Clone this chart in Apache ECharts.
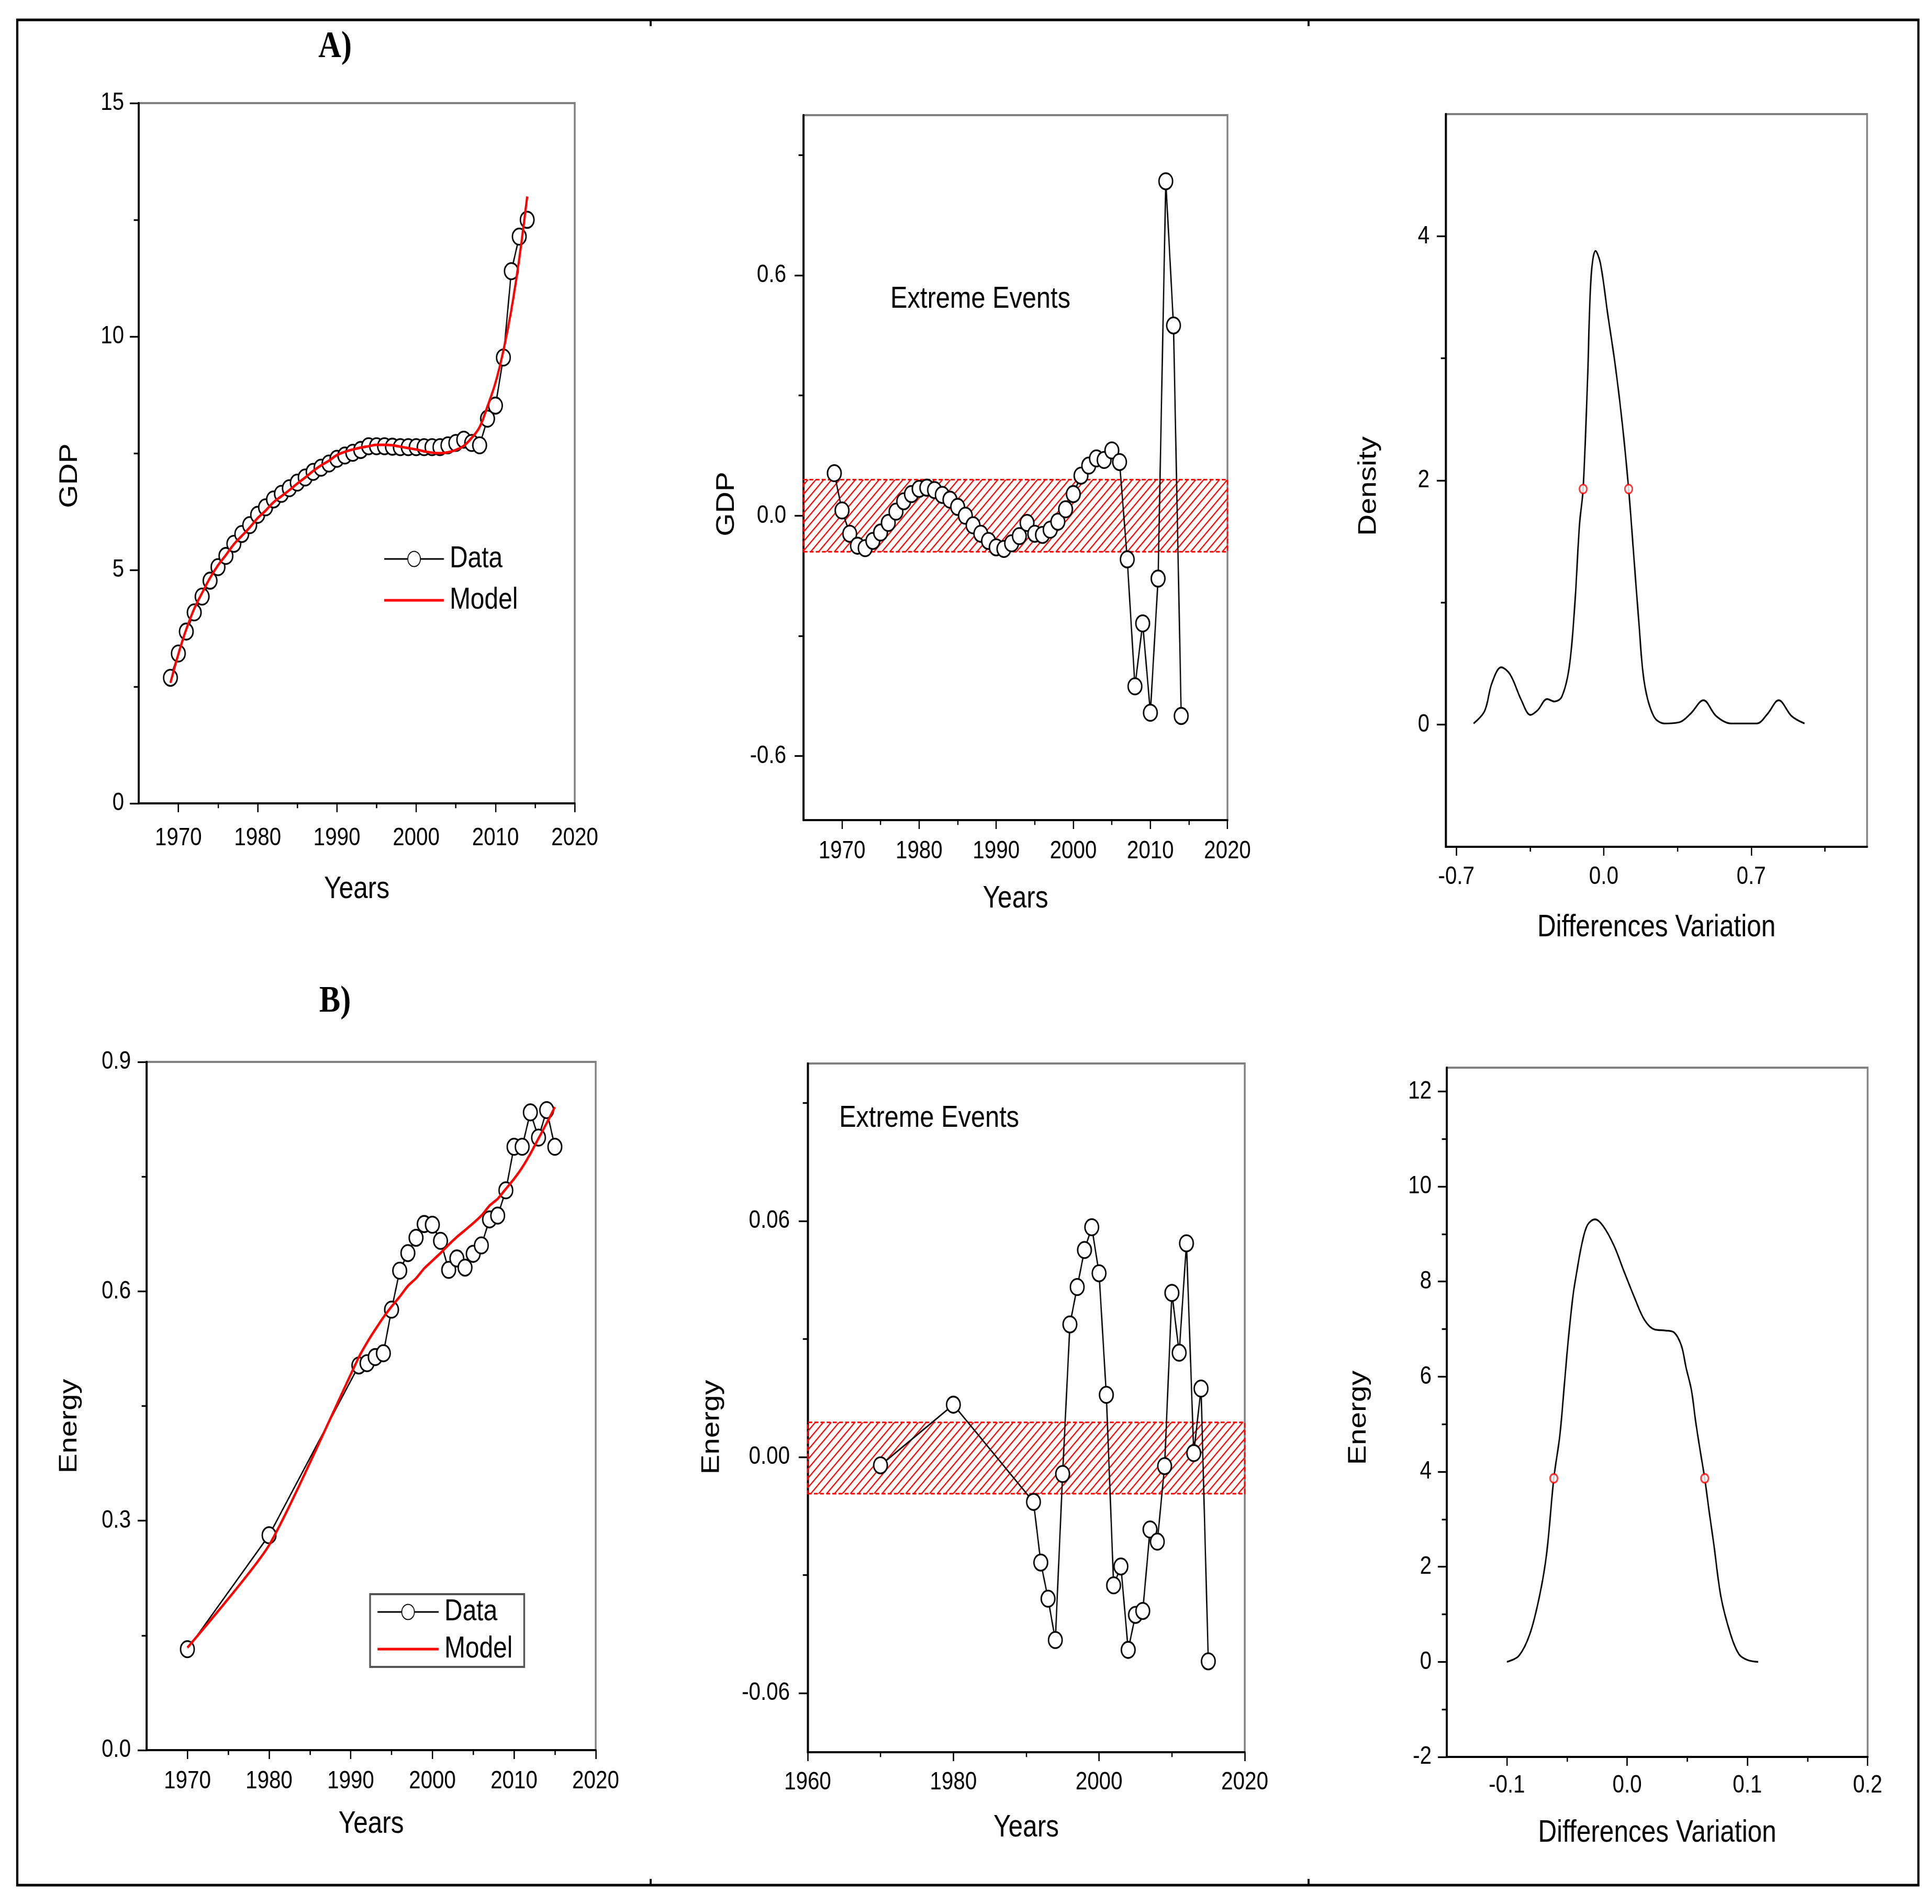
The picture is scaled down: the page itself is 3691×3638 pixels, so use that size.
<!DOCTYPE html>
<html>
<head>
<meta charset="utf-8">
<script src="https://cdn.jsdelivr.net/npm/echarts@6/dist/echarts.min.js"></script>
<style>
html, body { margin: 0; padding: 0; background: #fff; overflow: hidden; }
/* the original figure is squeezed horizontally; draw wide and squeeze the same way */
#main { height: 3638px; transform: scaleX(0.84); transform-origin: 0 0; }
</style>
</head>
<body>
<div id="main"></div>
<script>
// ---- data ----
var gdpYears = [1969, 1970, 1971, 1972, 1973, 1974, 1975, 1976, 1977, 1978, 1979, 1980, 1981, 1982, 1983, 1984,
    1985, 1986, 1987, 1988, 1989, 1990, 1991, 1992, 1993, 1994, 1995, 1996, 1997, 1998, 1999, 2000,
    2001, 2002, 2003, 2004, 2005, 2006, 2007, 2008, 2009, 2010, 2011, 2012, 2013, 2014];
var gdpData = [2.69, 3.21, 3.68, 4.09, 4.43, 4.77, 5.06, 5.30, 5.56, 5.77, 5.96, 6.18, 6.34, 6.51, 6.63, 6.75,
    6.87, 6.98, 7.10, 7.19, 7.28, 7.38, 7.45, 7.51, 7.57, 7.65, 7.65, 7.65, 7.64, 7.63, 7.63, 7.63,
    7.63, 7.63, 7.63, 7.67, 7.72, 7.79, 7.72, 7.67, 8.24, 8.52, 9.55, 11.40, 12.14, 12.50];
var gdpModel = [2.58, 3.20, 3.73, 4.17, 4.51, 4.83, 5.10, 5.32, 5.55, 5.73, 5.91, 6.11, 6.27, 6.45, 6.58, 6.71,
    6.85, 6.98, 7.12, 7.24, 7.34, 7.46, 7.53, 7.58, 7.62, 7.65, 7.68, 7.68, 7.67, 7.64, 7.61, 7.58,
    7.54, 7.51, 7.50, 7.52, 7.57, 7.66, 7.83, 8.06, 8.51, 9.01, 9.70, 10.57, 11.67, 13.00];
var gdpDiff = [0.106, 0.013, -0.045, -0.075, -0.081, -0.063, -0.042, -0.018, 0.010, 0.036, 0.054, 0.067, 0.070, 0.064, 0.052, 0.040,
    0.022, 0.000, -0.024, -0.045, -0.063, -0.079, -0.083, -0.069, -0.051, -0.018, -0.045, -0.048, -0.035, -0.015, 0.016, 0.054,
    0.100, 0.125, 0.143, 0.139, 0.163, 0.134, -0.109, -0.426, -0.269, -0.492, -0.157, 0.835, 0.475, -0.500];
var gdpBand = [-0.09, 0.09];

var gdpDensX = [-0.618, -0.566, -0.531, -0.487, -0.444, -0.391, -0.348, -0.313, -0.269, -0.234, -0.199, -0.164, -0.138,
    -0.115, -0.098, -0.077, -0.060, -0.039, -0.016, 0.019, 0.054, 0.089, 0.118, 0.141, 0.167, 0.193, 0.237,
    0.289, 0.359, 0.412, 0.473, 0.534, 0.604, 0.726, 0.778, 0.830, 0.892, 0.953];
var gdpDensY = [0.01, 0.11, 0.34, 0.47, 0.41, 0.20, 0.08, 0.12, 0.21, 0.19, 0.23, 0.47, 0.97,
    1.64, 1.93, 2.82, 3.67, 3.88, 3.78, 3.36, 2.95, 2.45, 1.93, 1.42, 0.83, 0.34, 0.07,
    0.01, 0.02, 0.09, 0.20, 0.07, 0.01, 0.01, 0.09, 0.20, 0.07, 0.01];
var gdpMarkX = [-0.098, 0.118];
var gdpMarkY = [1.93, 1.93];

var energyYears = [1970, 1980, 1991, 1992, 1993, 1994, 1995, 1996, 1997, 1998, 1999, 2000, 2001, 2002,
    2003, 2004, 2005, 2006, 2007, 2008, 2009, 2010, 2011, 2012, 2013, 2014, 2015];
var energyData = [0.132, 0.281, 0.503, 0.506, 0.514, 0.519, 0.576, 0.627, 0.650, 0.670, 0.688, 0.687, 0.666, 0.628,
    0.643, 0.631, 0.649, 0.660, 0.694, 0.699, 0.732, 0.789, 0.789, 0.834, 0.801, 0.837, 0.789];
var energyModel = [0.134, 0.268, 0.514, 0.533, 0.550, 0.566, 0.580, 0.593, 0.607, 0.617, 0.630, 0.640, 0.650, 0.661,
    0.671, 0.680, 0.689, 0.699, 0.712, 0.721, 0.734, 0.747, 0.762, 0.780, 0.800, 0.820, 0.841];
var energyDiff = [-0.0021, 0.0133, -0.0114, -0.0268, -0.0360, -0.0465, -0.0043, 0.0337, 0.0432, 0.0526, 0.0584, 0.0467, 0.0158, -0.0326,
    -0.0278, -0.0490, -0.0401, -0.0391, -0.0184, -0.0215, -0.0023, 0.0417, 0.0265, 0.0543, 0.0010, 0.0174, -0.0519];
var energyBand = [-0.0093, 0.0088];

var energyDensX = [-0.100, -0.090, -0.081, -0.073, -0.067, -0.061, -0.056, -0.052, -0.049, -0.045, -0.042, -0.0375,
    -0.033, -0.0267, -0.020, -0.011, -0.003, 0.006, 0.0145, 0.023, 0.032, 0.039, 0.045, 0.049,
    0.0535, 0.057, 0.0607, 0.0645, 0.068, 0.072, 0.078, 0.086, 0.093, 0.100, 0.109];
var energyDensY = [0.00, 0.13, 0.58, 1.37, 2.27, 3.86, 4.76, 5.90, 6.76, 7.71, 8.19, 8.81,
    9.19, 9.31, 9.17, 8.76, 8.24, 7.67, 7.19, 6.99, 6.97, 6.93, 6.66, 6.19,
    5.71, 5.05, 4.45, 3.86, 3.20, 2.49, 1.37, 0.58, 0.16, 0.04, 0.00];
var energyMarkX = [-0.061, 0.0645];
var energyMarkY = [3.86, 3.86];

// tick values (labelled / minor)
var yearTicks = [1970, 1980, 1990, 2000, 2010, 2020];
var yearMinor = [1975, 1985, 1995, 2005, 2015];
var yearTicks20 = [1960, 1980, 2000, 2020];
var yearMinor20 = [1970, 1990, 2010];
var gdpTicks = [0, 5, 10, 15];
var gdpMinor = [2.5, 7.5, 12.5];
var gdpDiffTicks = [-0.6, 0, 0.6];
var gdpDiffMinor = [-0.3, 0.3, 0.9];
var gdpDensXTicks = [-0.7, 0, 0.7];
var gdpDensXMinor = [-0.35, 0.35, 1.05];
var gdpDensYTicks = [0, 2, 4];
var gdpDensYMinor = [1, 3];
var energyTicks = [0, 0.3, 0.6, 0.9];
var energyMinor = [0.15, 0.45, 0.75];
var energyDiffTicks = [-0.06, 0, 0.06];
var energyDiffMinor = [-0.03, 0.03, 0.09];
var energyDensXTicks = [-0.1, 0, 0.1, 0.2];
var energyDensXMinor = [-0.05, 0.05, 0.15];
var energyDensYTicks = [-2, 0, 2, 4, 6, 8, 10, 12];
var energyDensYMinor = [-1, 1, 3, 5, 7, 9, 11];

var SX = 0.84;           // horizontal squeeze, must match the css transform
function X(v) { return v / SX; }

var SANS = "'Liberation Sans', Arial, sans-serif";
var SERIF = "'Liberation Serif', 'Times New Roman', serif";

function pairs(xs, ys) {
    return xs.map(function (x, i) { return [x, ys[i]]; });
}

// red diagonal hatch used for the "normal" band
function hatchPattern() {
    var c = document.createElement('canvas');
    c.width = 18;
    c.height = 18;
    var g = c.getContext('2d');
    g.strokeStyle = '#ff0000';
    g.lineWidth = 2.6;
    g.beginPath();
    for (var k = -1; k <= 1; k++) {
        g.moveTo(k * 18 - 3, 21);
        g.lineTo(k * 18 + 21, -3);
    }
    g.stroke();
    return { image: c, repeat: 'repeat' };
}
var hatch = hatchPattern();

var grids = [
    [265, 197, 833, 1338],
    [1535, 220, 810, 1347],
    [2762, 218, 805, 1400],
    [280, 2029, 858, 1315],
    [1543, 2032, 835, 1316],
    [2764, 2040, 804, 1317]
].map(function (g) {
    return {
        show: true, left: X(g[0]), top: g[1], width: X(g[2]), height: g[3],
        borderColor: '#808080', borderWidth: 4, backgroundColor: 'transparent'
    };
});

var xAxes = [], yAxes = [];

// main axis (long ticks + labels) plus an overlaid one carrying the short ticks
function addAxis(list, gridIndex, isX, s) {
    var tickLen = isX ? 17 : X(17);
    list.push({
        type: 'value', gridIndex: gridIndex, min: s.min, max: s.max,
        position: isX ? 'bottom' : 'left',
        axisLine: { show: true, onZero: false, lineStyle: { color: '#000', width: isX ? 4 : 4.6 } },
        axisTick: { show: true, length: tickLen, customValues: s.major, lineStyle: { color: '#000', width: isX ? 3 : 3.3 } },
        axisLabel: {
            show: true, customValues: s.major, margin: isX ? s.margin : X(s.margin), color: '#000',
            fontFamily: SANS, fontSize: 48,
            formatter: function (v) { return (+v).toFixed(s.digits); }
        },
        splitLine: { show: false },
        name: s.name || '', nameLocation: 'middle', nameGap: s.nameGap || 0,
        nameTextStyle: { color: '#000', fontFamily: SANS, fontSize: 59 }
    });
    var idx = list.length - 1;
    list.push({
        type: 'value', gridIndex: gridIndex, min: s.min, max: s.max,
        position: isX ? 'bottom' : 'left',
        axisLine: { show: false, onZero: false },
        axisTick: { show: true, length: tickLen * 0.55, customValues: s.minor, lineStyle: { color: '#000', width: isX ? 3 : 3.3 } },
        axisLabel: { show: false },
        splitLine: { show: false }
    });
    return idx;
}

var ax = [];
ax.push([
    addAxis(xAxes, 0, true, { min: 1965, max: 2020, major: yearTicks, minor: yearMinor, digits: 0, margin: 43, name: 'Years', nameGap: 135 }),
    addAxis(yAxes, 0, false, { min: 0, max: 15, major: gdpTicks, minor: gdpMinor, digits: 0, margin: 28 })
]);
ax.push([
    addAxis(xAxes, 1, true, { min: 1965, max: 2020, major: yearTicks, minor: yearMinor, digits: 0, margin: 36, name: 'Years', nameGap: 121 }),
    addAxis(yAxes, 1, false, { min: -0.76, max: 1.0, major: gdpDiffTicks, minor: gdpDiffMinor, digits: 1, margin: 33 })
]);
ax.push([
    addAxis(xAxes, 2, true, { min: -0.75, max: 1.25, major: gdpDensXTicks, minor: gdpDensXMinor, digits: 1, margin: 34, name: 'Differences Variation', nameGap: 125 }),
    addAxis(yAxes, 2, false, { min: -1, max: 5, major: gdpDensYTicks, minor: gdpDensYMinor, digits: 0, margin: 31 })
]);
ax.push([
    addAxis(xAxes, 3, true, { min: 1965, max: 2020, major: yearTicks, minor: yearMinor, digits: 0, margin: 36, name: 'Years', nameGap: 112 }),
    addAxis(yAxes, 3, false, { min: 0, max: 0.9, major: energyTicks, minor: energyMinor, digits: 1, margin: 30 })
]);
ax.push([
    addAxis(xAxes, 4, true, { min: 1960, max: 2020, major: yearTicks20, minor: yearMinor20, digits: 0, margin: 34, name: 'Years', nameGap: 115 }),
    addAxis(yAxes, 4, false, { min: -0.075, max: 0.1, major: energyDiffTicks, minor: energyDiffMinor, digits: 2, margin: 34 })
]);
ax.push([
    addAxis(xAxes, 5, true, { min: -0.15, max: 0.2, major: energyDensXTicks, minor: energyDensXMinor, digits: 1, margin: 31, name: 'Differences Variation', nameGap: 116 }),
    addAxis(yAxes, 5, false, { min: -2, max: 12.5, major: energyDensYTicks, minor: energyDensYMinor, digits: 0, margin: 29 })
]);

function dataSeries(p, xs, ys, extra) {
    var s = {
        name: 'Data', type: 'line', xAxisIndex: ax[p][0], yAxisIndex: ax[p][1],
        data: pairs(xs, ys), symbol: 'circle', symbolSize: 31,
        itemStyle: { color: '#fff', borderColor: '#000', borderWidth: 3.3 },
        lineStyle: { color: '#000', width: 3 }, z: 3
    };
    for (var k in extra) s[k] = extra[k];
    return s;
}
function curveSeries(p, xs, ys, color, width, smooth, name) {
    return {
        name: name, type: 'line', xAxisIndex: ax[p][0], yAxisIndex: ax[p][1],
        data: pairs(xs, ys), symbol: 'circle', showSymbol: false, smooth: smooth,
        itemStyle: { color: 'rgba(0,0,0,0)', borderColor: 'rgba(0,0,0,0)', borderWidth: 0 },
        lineStyle: { color: color, width: width }, z: 4
    };
}
function markSeries(p, xs, ys) {
    return {
        type: 'scatter', xAxisIndex: ax[p][0], yAxisIndex: ax[p][1],
        data: pairs(xs, ys), symbol: 'circle', symbolSize: 17,
        itemStyle: { color: '#fff', borderColor: '#ff0000', borderWidth: 3.3 }, z: 5
    };
}
function band(lims) {
    return {
        silent: true,
        itemStyle: { color: hatch, borderColor: '#ff0000', borderWidth: 3, borderType: [9, 5] },
        data: [[{ yAxis: lims[0] }, { yAxis: lims[1] }]]
    };
}

var series = [
    dataSeries(0, gdpYears, gdpData, {}),
    curveSeries(0, gdpYears, gdpModel, '#ff0000', 5, 0.4, 'Model'),
    dataSeries(1, gdpYears, gdpDiff, { name: 'diff', markArea: band(gdpBand) }),
    curveSeries(2, gdpDensX, gdpDensY, '#000', 3.3, 0.35, 'dens'),
    markSeries(2, gdpMarkX, gdpMarkY),
    dataSeries(3, energyYears, energyData, {}),
    curveSeries(3, energyYears, energyModel, '#ff0000', 5, 0.2, 'Model'),
    dataSeries(4, energyYears, energyDiff, { name: 'diff', markArea: band(energyBand) }),
    curveSeries(5, energyDensX, energyDensY, '#000', 3.3, 0.35, 'dens'),
    markSeries(5, energyMarkX, energyMarkY)
];

function txt(x, y, text, font, rot) {
    return {
        type: 'text', x: X(x), y: y, rotation: rot || 0,
        style: {
            text: text, font: font, fill: '#000',
            align: 'center', verticalAlign: 'middle',
            textAlign: 'center', textVerticalAlign: 'middle'
        }
    };
}
function seg(x1, y1, x2, y2) {
    return { type: 'line', shape: { x1: X(x1), y1: y1, x2: X(x2), y2: y2 }, style: { stroke: '#000', lineWidth: 4.5 } };
}
var yFont = '57px ' + SANS;
var graphics = [
    { type: 'rect', shape: { x: X(33), y: 38, width: X(3632), height: 3564 }, style: { fill: 'none', stroke: '#000', lineWidth: 5 } },
    seg(1243, 38, 1243, 50), seg(2500, 38, 2500, 50),
    seg(1243, 3590, 1243, 3602), seg(2500, 3590, 2500, 3602),
    txt(640, 90, 'A)', 'bold 72px ' + SERIF),
    txt(640, 1914, 'B)', 'bold 72px ' + SERIF),
    txt(1873, 572, 'Extreme Events', '58px ' + SANS),
    txt(1775, 2137, 'Extreme Events', '58px ' + SANS),
    txt(134, 909, 'GDP', yFont, Math.PI / 2),
    txt(1389, 963, 'GDP', yFont, Math.PI / 2),
    txt(2615, 929, 'Density', yFont, Math.PI / 2),
    txt(133, 2725, 'Energy', yFont, Math.PI / 2),
    txt(1360, 2727, 'Energy', yFont, Math.PI / 2),
    txt(2596, 2709, 'Energy', yFont, Math.PI / 2)
];

var legendText = { color: '#000', fontFamily: SANS, fontSize: 57, lineHeight: 62, padding: [0, 0, 0, 8] };
var legendItems = [
    { name: 'Data', lineStyle: { width: 3 } },
    { name: 'Model', lineStyle: { width: 5 } }
];

var chartDom = document.getElementById('main');
chartDom.style.width = X(3691) + 'px';
var myChart = echarts.init(chartDom);
var option = {
    animation: false,
    backgroundColor: '#fff',
    grid: grids,
    xAxis: xAxes,
    yAxis: yAxes,
    legend: [
        {
            orient: 'vertical', left: X(732), top: 1037, padding: 0, itemGap: 17,
            itemWidth: X(114), itemHeight: 36, selectedMode: false,
            textStyle: legendText, data: legendItems
        },
        {
            orient: 'vertical', left: X(707), top: 3046, padding: [3, X(22), 3, X(12)], itemGap: 9,
            itemWidth: X(117), itemHeight: 36, selectedMode: false,
            borderColor: '#555', borderWidth: 4,
            textStyle: legendText, data: legendItems
        }
    ],
    graphic: graphics,
    series: series
};

option && myChart.setOption(option);
</script>
</body>
</html>
